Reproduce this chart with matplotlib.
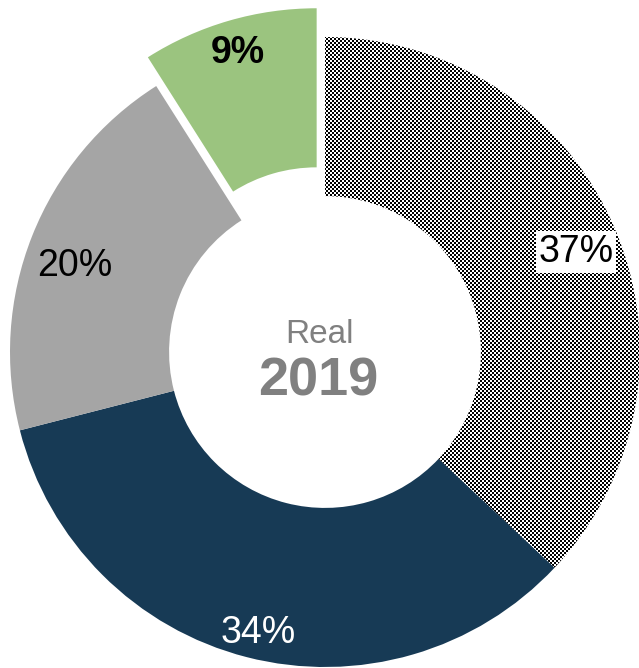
import numpy as np
import matplotlib
matplotlib.use('Agg')
from matplotlib import pyplot as plt

plt.rcParams['font.family'] = ['Liberation Sans', 'DejaVu Sans']

# chart data
categories = ['A', 'B', 'C', 'D']
values = [37, 34, 20, 9]
colors = ['white', '#173A55', '#A5A5A5', '#9BC47F']
explode = [0, 0, 0, 0.095]
label_colors = ['black', 'white', 'black', 'black']
label_weights = ['normal', 'normal', 'normal', 'bold']
center_title = 'Real'
center_year = '2019'

W, H = 639, 668
fig = plt.figure(figsize=(W / 100, H / 100), dpi=100)
ax = fig.add_axes([0, 0, 1, 1])

# pixel geometry of the ring
cx, cy, R = 325, 352, 315
xlim = (-cx / R, (W - cx) / R)
ylim = (-(H - cy) / R, cy / R)

def px(x, y):
    return (x - cx) / R, (cy - y) / R

# where the percentage labels sit (pixels)
label_px = [(576, 248), (258, 629), (75, 262), (238, 49)]

wedges, texts, autotexts = ax.pie(values, colors=colors, startangle=90, counterclock=False,
                                  explode=explode, radius=1,
                                  wedgeprops=dict(width=0.505, linewidth=0, edgecolor='none'),
                                  autopct='%.0f%%', pctdistance=0.87,
                                  textprops=dict(fontsize=27))

for t, c, w, p in zip(autotexts, label_colors, label_weights, label_px):
    t.set_color(c)
    t.set_fontweight(w)
    t.set_position(px(*p))
    t.set_va('center_baseline')
    t.set_zorder(5)
autotexts[0].set_bbox(dict(facecolor='white', edgecolor='none', pad=2))

# checkerboard texture for the first slice (2 px cells)
yy, xx = np.mgrid[0:H, 0:W]
checker = ((xx // 2 + yy // 2) % 2).astype(float)
img = ax.imshow(checker, cmap='gray', extent=(xlim[0], xlim[1], ylim[0], ylim[1]),
                interpolation='nearest', origin='upper', zorder=wedges[0].get_zorder() + 0.1)
img.set_clip_path(wedges[0])

ax.text(*px(319, 331), center_title, ha='center', va='center_baseline', fontsize=24, color='#808080')
ax.text(*px(318, 376), center_year, ha='center', va='center_baseline', fontsize=39,
        fontweight='bold', color='#808080')

ax.set_xlim(*xlim)
ax.set_ylim(*ylim)
ax.set_aspect('auto')
ax.axis('off')

fig.savefig('out.png', dpi=100)
